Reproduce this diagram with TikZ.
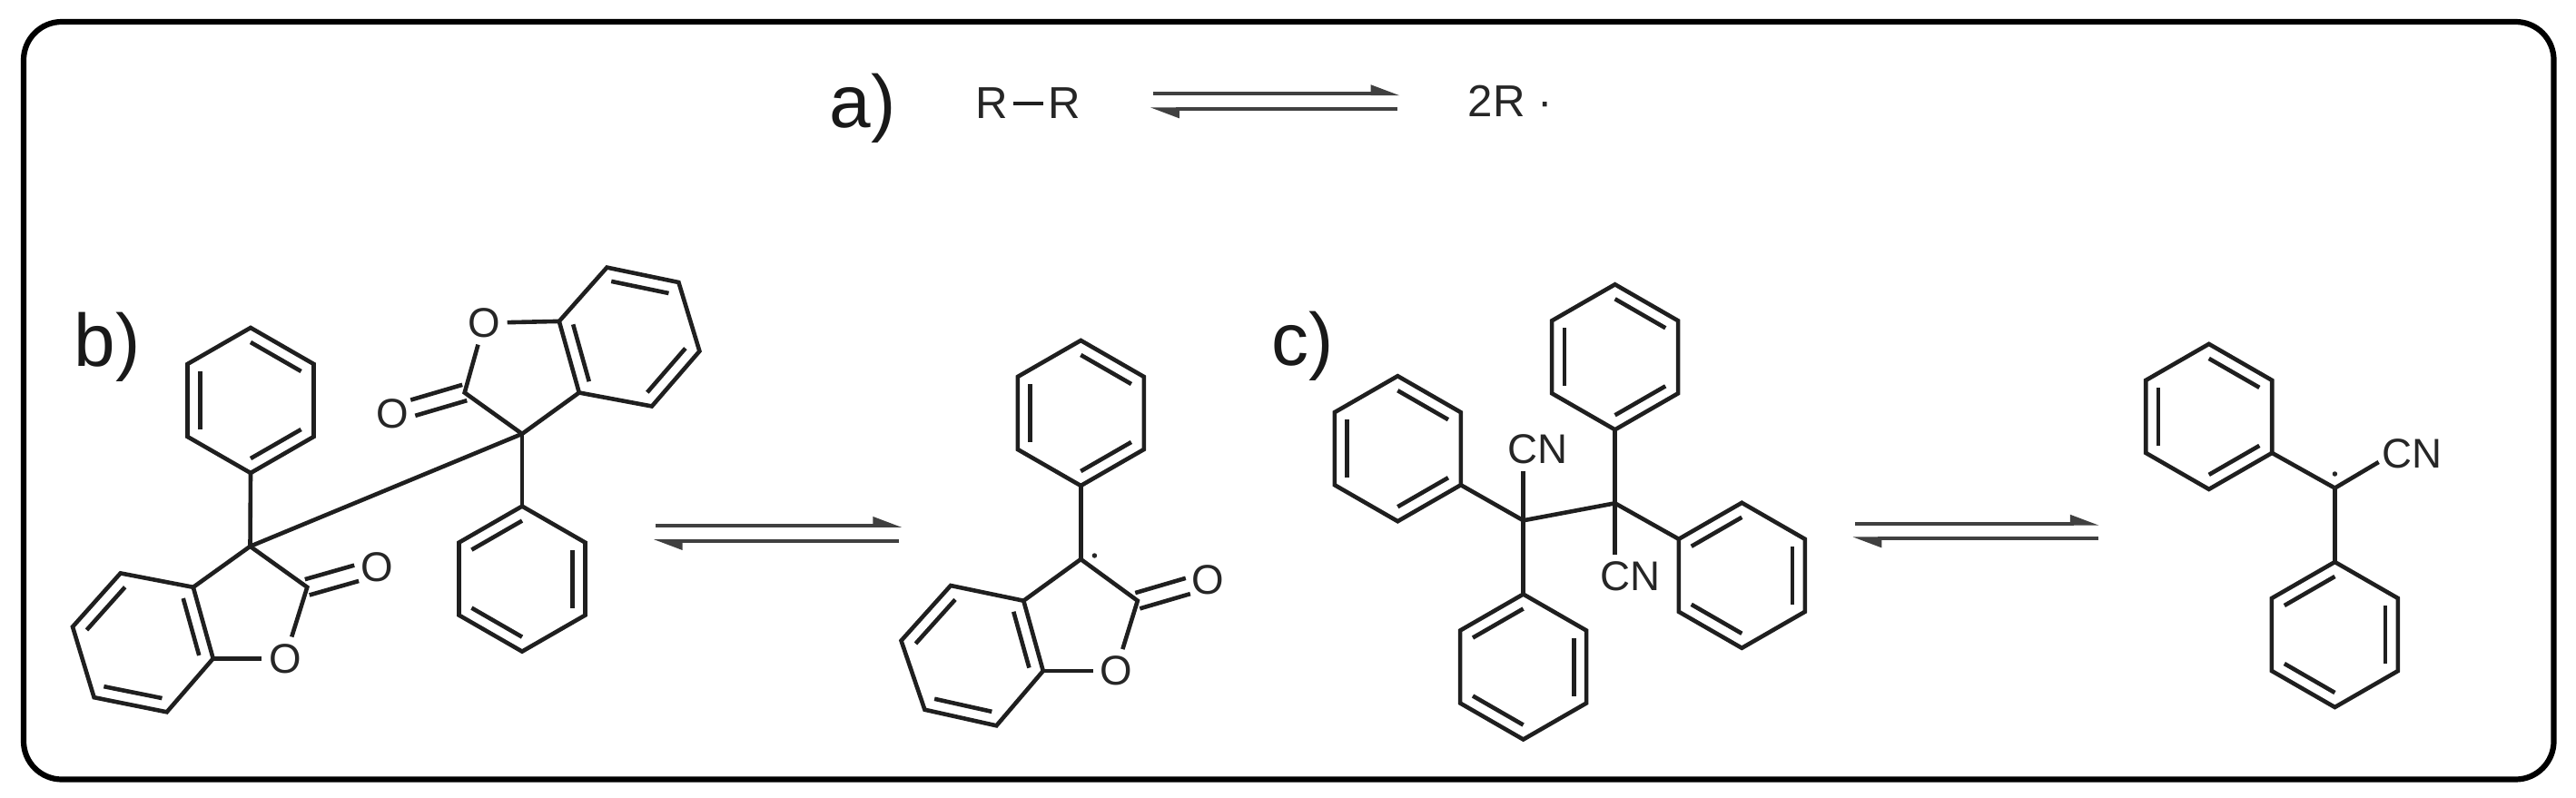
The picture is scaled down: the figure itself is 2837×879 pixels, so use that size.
\documentclass[tikz,border=0pt]{standalone}
\usepackage{fontspec}
\setmainfont{Liberation Sans}
\usetikzlibrary{calc,arrows.meta}

\tikzset{
	bond/.style={line width=.46mm,black!88,line join=miter},
	atom/.style={font=\fontsize{13}{13}\selectfont,inner sep=2pt,text=black!85},
	tag/.style={font=\fontsize{23.3}{24}\selectfont,inner sep=0pt,text=black!90},
	plain/.style={font=\fontsize{14}{14}\selectfont,inner sep=.5mm,text=black!85},
	radical/.style={circle,fill=black!85,inner sep=0pt,minimum size=.55mm},
	harp/.style={line width=.38mm,black!75,-{Triangle[harpoon,length=2.7mm,width=1.9mm]}}
}

\newcommand{\inring}[3]{\draw[bond] ($(#1)!.2!(#3)$) -- ($(#2)!.2!(#3)$);}
\newcommand{\phring}[3]{%
	\coordinate (#1o) at (#2,#3);
	\coordinate (#1a) at (#2,#3-80);
	\coordinate (#1b) at (#2+69.5,#3-40);
	\coordinate (#1c) at (#2+69.5,#3+40);
	\coordinate (#1d) at (#2,#3+80);
	\coordinate (#1e) at (#2-69.5,#3+40);
	\coordinate (#1f) at (#2-69.5,#3-40);
	\draw[bond] (#1a) -- (#1b) -- (#1c) -- (#1d) -- (#1e) -- (#1f) -- cycle;}
\newcommand{\phright}[3]{\phring{#1}{#2}{#3}\inring{#1a}{#1b}{#1o}\inring{#1c}{#1d}{#1o}\inring{#1e}{#1f}{#1o}}
\newcommand{\phleft}[3]{\phring{#1}{#2}{#3}\inring{#1b}{#1c}{#1o}\inring{#1d}{#1e}{#1o}\inring{#1f}{#1a}{#1o}}
\newcommand{\carbonyl}[2]{%
	\draw[bond,shorten >=2.3mm] ($(#1)!.9mm!90:(#2.center)$) -- ($(#2.center)!.9mm!-90:(#1)$);
	\draw[bond,shorten >=2.3mm] ($(#1)!.9mm!-90:(#2.center)$) -- ($(#2.center)!.9mm!90:(#1)$);}

\begin{document}
\begin{tikzpicture}[x=.01cm,y=-.01cm]
	\useasboundingbox (0,0) rectangle (2837,879);
	\draw[line width=.62mm,rounded corners=.42cm] (26,24) rectangle (2812.5,858.5);

	\node[tag] (tagA) at (950,119) {a)};
	\node[plain] (Ra) at (1092.5,114) {R};
	\node[plain] (Rb) at (1172.7,114) {R};
	\draw[bond] (Ra) -- (Rb);
	\node[plain,anchor=west,inner sep=0pt] (Rc) at (1616,111) {2R ·};
	\coordinate (Aa) at (1270.4,103.3);
	\coordinate (Ab) at (1542,103.3);
	\coordinate (Ac) at (1538.5,120.3);
	\coordinate (Ad) at (1266.4,120.3);
	\draw[harp] (Aa) -- (Ab);
	\draw[harp] (Ac) -- (Ad);

	\node[tag] (tagB) at (118,382) {b)};
	\coordinate (Ca) at (275.5,601.8);
	\coordinate (Cb) at (575,477.9);
	\draw[bond] (Ca) -- (Cb);
	\phright{Pa}{276}{441}
	\draw[bond] (Pad) -- (Ca);
	\phleft{Pb}{575}{637.6}
	\draw[bond] (Cb) -- (Pba);

	\coordinate (La) at (212.8,646.8);
	\coordinate (Lb) at (132.7,631.4);
	\coordinate (Lc) at (80,690.4);
	\coordinate (Ld) at (103.6,768.2);
	\coordinate (Le) at (183.7,784.3);
	\coordinate (Lf) at (234.7,725.4);
	\coordinate (Lo) at (157.5,708);
	\coordinate (Lg) at (338.3,646.8);
	\node[atom] (Oa) at (313.8,725.4) {O};
	\node[atom] (Ob) at (414.8,625) {O};
	\draw[bond] (La) -- (Lb) -- (Lc) -- (Ld) -- (Le) -- (Lf) -- cycle;
	\draw[bond] (Ca) -- (La);
	\draw[bond] (Lf) -- (Oa);
	\draw[bond] (Oa) -- (Lg) -- (Ca);
	\inring{La}{Lf}{Lo}
	\inring{Lb}{Lc}{Lo}
	\inring{Ld}{Le}{Lo}
	\carbonyl{Lg}{Ob}

	\coordinate (Ua) at (637.8,432.5);
	\coordinate (Ub) at (615.8,353.9);
	\coordinate (Uc) at (668.4,294.6);
	\coordinate (Ud) at (747.4,311);
	\coordinate (Ue) at (770.4,386.8);
	\coordinate (Uf) at (717.9,447.5);
	\coordinate (Uo) at (692.6,371);
	\coordinate (Ug) at (511.7,432.5);
	\node[atom] (Oc) at (533.2,355.7) {O};
	\node[atom] (Od) at (432.7,455.7) {O};
	\draw[bond] (Ua) -- (Ub) -- (Uc) -- (Ud) -- (Ue) -- (Uf) -- cycle;
	\draw[bond] (Cb) -- (Ua);
	\draw[bond] (Ub) -- (Oc);
	\draw[bond] (Oc) -- (Ug) -- (Cb);
	\inring{Ua}{Ub}{Uo}
	\inring{Uc}{Ud}{Uo}
	\inring{Ue}{Uf}{Uo}
	\carbonyl{Ug}{Od}

	\coordinate (Ba) at (722.4,579);
	\coordinate (Bb) at (993.8,579);
	\coordinate (Bc) at (990.3,596);
	\coordinate (Bd) at (719.3,596);
	\draw[harp] (Ba) -- (Bb);
	\draw[harp] (Bc) -- (Bd);

	\coordinate (Cc) at (1190.3,616);
	\node[radical] (dotA) at (1205.4,612) {};
	\phright{Pc}{1190.3}{455}
	\draw[bond] (Pcd) -- (Cc);
	\coordinate (Ma) at (1127.3,661.7);
	\coordinate (Mb) at (1047,645);
	\coordinate (Mc) at (992.5,705.7);
	\coordinate (Md) at (1018.4,781.7);
	\coordinate (Me) at (1097.4,799.3);
	\coordinate (Mf) at (1148.8,739);
	\coordinate (Mo) at (1072,722);
	\coordinate (Mg) at (1252.8,661.7);
	\node[atom] (Oe) at (1229,739) {O};
	\node[atom] (Of) at (1330.4,639) {O};
	\draw[bond] (Ma) -- (Mb) -- (Mc) -- (Md) -- (Me) -- (Mf) -- cycle;
	\draw[bond] (Cc) -- (Ma);
	\draw[bond] (Mf) -- (Oe);
	\draw[bond] (Oe) -- (Mg) -- (Cc);
	\inring{Ma}{Mf}{Mo}
	\inring{Mb}{Mc}{Mo}
	\inring{Md}{Me}{Mo}
	\carbonyl{Mg}{Of}

	\node[tag] (tagC) at (1435,381) {c)};
	\coordinate (Cd) at (1677.6,573.3);
	\coordinate (Ce) at (1778.6,554.3);
	\draw[bond] (Cd) -- (Ce);
	\phright{Pd}{1539.3}{494.2}
	\phright{Pe}{1778.6}{393.3}
	\phleft{Pf}{1918.3}{633.8}
	\phleft{Pg}{1677.6}{734.5}
	\draw[bond] (Pdc) -- (Cd);
	\draw[bond] (Cd) -- (Pga);
	\draw[bond] (Ped) -- (Ce);
	\draw[bond] (Ce) -- (Pff);
	\node[atom] (CNa) at (1693.4,495) {CN};
	\node[atom] (CNb) at (1795.3,635) {CN};
	\draw[bond] (Cd) -- (Cd |- CNa.south);
	\draw[bond] (Ce) -- (Ce |- CNb.north);

	\coordinate (Da) at (2043.4,576.8);
	\coordinate (Db) at (2312.2,576.8);
	\coordinate (Dc) at (2311,593.3);
	\coordinate (Dd) at (2039.8,593.3);
	\draw[harp] (Da) -- (Db);
	\draw[harp] (Dc) -- (Dd);

	\coordinate (Cf) at (2571.4,537.6);
	\node[radical] (dotB) at (2571.4,522) {};
	\phright{Ph}{2432.7}{458.9}
	\phleft{Pi}{2571.4}{699}
	\node[atom] (CNc) at (2656.4,500) {CN};
	\draw[bond] (Phc) -- (Cf);
	\draw[bond] (Cf) -- (Pia);
	\draw[bond] (Cf) -- ($(CNc.west)+(4,9)$);
\end{tikzpicture}
\end{document}
